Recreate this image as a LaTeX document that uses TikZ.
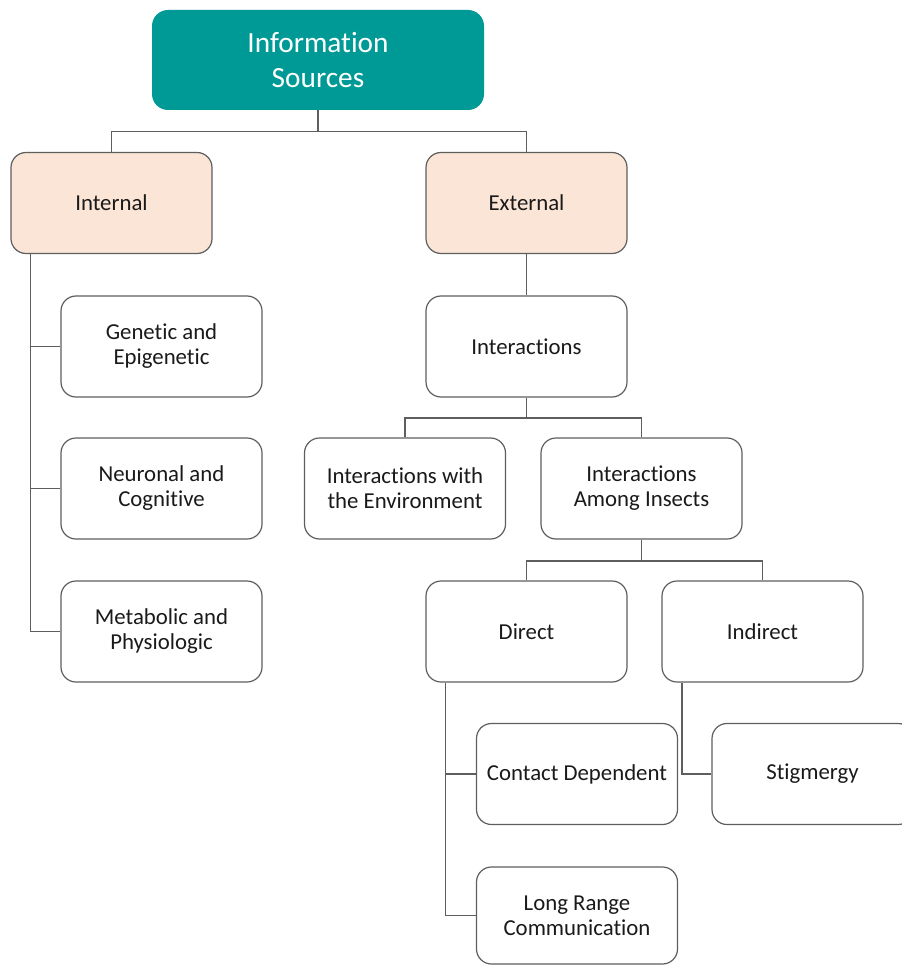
\documentclass[tikz,border=0pt]{standalone}
\usepackage{fontspec}
\setmainfont{Carlito}[Ligatures={NoCommon}]
\definecolor{tealbox}{HTML}{009A96}
\definecolor{peach}{HTML}{FBE5D6}
\definecolor{edge}{HTML}{5E5E5E}
\definecolor{ink}{HTML}{1A1A1A}
\begin{document}
\begin{tikzpicture}[x=1pt,y=-1pt,
  box/.style={draw=edge, line width=1.2pt, rounded corners=15pt, fill=white,
    minimum width=201pt, minimum height=101pt, align=center, inner sep=0pt,
    text=ink, font=\fontsize{22.8}{25}\selectfont},
  headbox/.style={box, fill=peach},
  rootbox/.style={draw=none, fill=tealbox, rounded corners=16pt,
    minimum width=332pt, minimum height=100pt, align=center, text=white,
    font=\fontsize{29.3}{35.5}\selectfont},
  link/.style={draw=edge, line width=1.3pt}]
\useasboundingbox (0,0) rectangle (901,965);

% root and first level
\node[rootbox] (src) at (318,60) {Information\\Sources};
\node[headbox] (internal) at (111.5,203) {Internal};
\node[headbox] (external) at (526.5,203) {External};

% internal sources
\node[box] (genetic) at (161.5,346.5) {Genetic and\\Epigenetic};
\node[box] (neuronal) at (161.5,488.5) {Neuronal and\\Cognitive};
\node[box] (metabolic) at (161.5,631.5) {Metabolic and\\Physiologic};

% external sources
\node[box] (interactions) at (526.5,346.5) {Interactions};
\node[box] (environment) at (405,488.5) {Interactions with\\the Environment};
\node[box] (among) at (641.5,488.5) {Interactions\\Among Insects};
\node[box] (direct) at (526.5,631.5) {Direct};
\node[box] (indirect) at (762.5,631.5) {Indirect};
\node[box] (contact) at (577,774) {Contact Dependent};
\node[box, minimum height=97pt] (longrange) at (577,915.5) {Long Range\\Communication};
\node[box] (stigmergy) at (812.5,774) {Stigmergy};

% connectors: a bus under each parent, one stem per child
\coordinate (rootbus) at ([yshift=-21pt]src.south);
\draw[link] (src.south) -- (rootbus);
\draw[link] (internal.north) |- (rootbus) -| (external.north);

\coordinate (itrunk) at ([xshift=20pt]internal.south west);
\draw[link] (itrunk) |- (metabolic.west);
\draw[link] (genetic.west) -- (genetic.west -| itrunk);
\draw[link] (neuronal.west) -- (neuronal.west -| itrunk);

\draw[link] (external.south) -- (interactions.north);

\coordinate (ibus) at ([yshift=-20.5pt]interactions.south);
\draw[link] (interactions.south) -- (ibus);
\draw[link] (environment.north) |- (ibus) -| (among.north);

\coordinate (abus) at ([yshift=-21.5pt]among.south);
\draw[link] (among.south) -- (abus);
\draw[link] (direct.north) |- (abus) -| (indirect.north);

\coordinate (dtrunk) at ([xshift=20pt]direct.south west);
\draw[link] (dtrunk) |- (longrange.west);
\draw[link] (contact.west) -- (contact.west -| dtrunk);

\coordinate (ntrunk) at ([xshift=20.5pt]indirect.south west);
\draw[link] (ntrunk) |- (stigmergy.west);
\end{tikzpicture}
\end{document}
